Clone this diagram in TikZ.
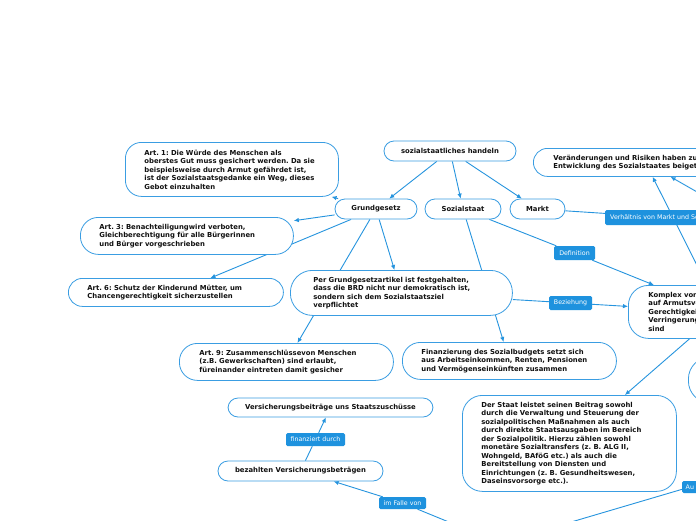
\documentclass[tikz,border=0pt]{standalone}
\usepackage{fontspec}
\setmainfont{DejaVu Sans}
\usetikzlibrary{arrows.meta,backgrounds}
\definecolor{bordc}{RGB}{58,157,226}
\definecolor{linec}{RGB}{38,148,222}
\definecolor{labc}{RGB}{30,146,222}
\definecolor{txtc}{RGB}{17,17,17}
\newcommand\nodefnt{\fontsize{6.85}{8.5}\selectfont\bfseries}
\newcommand\labfnt{\fontsize{6.3}{7.5}\selectfont}
\frenchspacing
\begin{document}
\begin{tikzpicture}[x=1pt,y=-1pt,
  box/.style={draw=bordc, line width=0.8pt, fill=white, text=txtc, font=\nodefnt, inner sep=0pt},
  pill/.style={box, rounded corners=10pt, minimum height=20pt, align=center},
  tbox/.style={box, align=left, anchor=north west, execute at begin node={\frenchspacing\leftskip=#1\relax}},
  lab/.style={fill=labc, text=white, font=\labfnt, inner xsep=0pt, inner ysep=0pt, rounded corners=1.5pt, align=center},
  conn/.style={draw=linec, line width=0.9pt},
  arr/.style={conn, -{Latex[length=5pt,width=4.5pt]}}]
\useasboundingbox (0,0) rectangle (696,520);

% main nodes
\node[pill, minimum width=132pt] (handeln) at (450,151) {sozialstaatliches handeln};
\node[pill, minimum width=82pt] (grund) at (376,209) {Grundgesetz};
\node[pill, minimum width=76pt] (sozial) at (463,209) {Sozialstaat};
\node[pill, minimum width=55pt] (markt) at (537.5,209) {Markt};

\node[tbox=19pt, text width=213pt, minimum height=54pt, rounded corners=16pt] (art1) at (125,142)
  {Art. 1: Die Würde des Menschen als\\oberstes Gut muss gesichert werden. Da sie\\beispielsweise durch Armut gefährdet ist,\\ist der Sozialstaatsgedanke ein Weg, dieses\\Gebot einzuhalten};
\node[tbox=19pt, text width=213pt, minimum height=37pt, rounded corners=18pt] (art3) at (80,217)
  {Art. 3: Benachteiligungwird verboten,\\Gleichberechtigung für alle Bürgerinnen\\und Bürger vorgeschrieben};
\node[tbox=19pt, text width=215pt, minimum height=28pt, rounded corners=14pt] (art6) at (68,278)
  {Art. 6: Schutz der Kinderund Mütter, um\\Chancengerechtigkeit sicherzustellen};
\node[tbox=23pt, text width=222pt, minimum height=45pt, rounded corners=22pt] (per) at (290,270)
  {Per Grundgesetzartikel ist festgehalten,\\dass die BRD nicht nur demokratisch ist,\\sondern sich dem Sozialstaatsziel\\verpflichtet};
\node[tbox=20pt, text width=214pt, minimum height=37pt, rounded corners=18pt] (art9) at (179,343)
  {Art. 9: Zusammenschlüssevon Menschen\\(z.B. Gewerkschaften) sind erlaubt,\\füreinander eintreten damit gesicher};
\node[tbox=19pt, text width=214pt, minimum height=37pt, rounded corners=18pt] (finanz) at (402,342)
  {Finanzierung des Sozialbudgets setzt sich\\aus Arbeitseinkommen, Renten, Pensionen\\und Vermögenseinkünften zusammen};
\node[tbox=20pt, text width=224pt, minimum height=28pt, rounded corners=14pt] (veraend) at (533,148)
  {Veränderungen und Risiken haben zur\\Entwicklung des Sozialstaates beigetragen};
\node[tbox=20pt, text width=184pt, minimum height=53pt, rounded corners=20pt] (komplex) at (628,285)
  {Komplex von\\auf Armutsvermeidung\\Gerechtigkeit\\Verringerung\\sind};
\node[box, minimum width=70pt, minimum height=46pt, rounded corners=22pt, anchor=west] (rnode) at (688,380) {};
\node[tbox=19pt, text width=214pt, minimum height=96pt, rounded corners=20pt] (staat) at (462,395)
  {Der Staat leistet seinen Beitrag sowohl\\durch die Verwaltung und Steuerung der\\sozialpolitischen Maßnahmen als auch\\durch direkte Staatsausgaben im Bereich\\der Sozialpolitik. Hierzu zählen sowohl\\monetäre Sozialtransfers (z. B. ALG II,\\Wohngeld, BAföG etc.) als auch die\\Bereitstellung von Diensten und\\Einrichtungen (z. B. Gesundheitswesen,\\Daseinsvorsorge etc.).};
\node[pill, minimum width=205pt, minimum height=19pt] (versich) at (330.5,407.5) {Versicherungsbeiträge uns Staatszuschüsse};
\node[pill, minimum width=165pt] (bezahlt) at (300.5,471) {bezahlten Versicherungsbeträgen};

% connector labels
\node[lab, minimum width=41pt, minimum height=14pt] (def) at (574.5,253) {Definition};
\node[lab, minimum width=43pt, minimum height=14pt] (bez) at (570.5,303) {Beziehung};
\node[lab, minimum width=59pt, minimum height=13pt] (fin) at (315.5,439.5) {finanziert durch};
\node[lab, minimum width=47pt, minimum height=12pt] (imf) at (402.5,503) {im Falle von};
\node[lab, inner xsep=5pt, minimum height=15pt, anchor=west] (verh) at (605,217.5) {Verhältnis von Markt und Sozialstaat};
\node[lab, inner xsep=3.5pt, minimum height=12pt, anchor=west] (au) at (682,487) {Au};

\coordinate (offB) at (760,228);
\coordinate (bot) at (500,543);

\begin{scope}[on background layer]
  \fill[white] (0,0) rectangle (696,520);
  \draw[arr] (handeln) -- (grund);
  \draw[arr] (handeln) -- (sozial);
  \draw[arr] (handeln) -- (markt);
  \draw[arr] (grund) -- (art1);
  \draw[arr] (grund) -- (art3);
  \draw[arr] (grund) -- (art6);
  \draw[arr] (grund) -- (per);
  \draw[arr] (grund) -- (art9);
  \draw[arr] (sozial) -- (finanz);
  \draw[conn] (sozial) -- (def);
  \draw[arr] (def) -- (komplex);
  \draw[conn] (per) -- (bez);
  \draw[arr] (bez) -- (komplex);
  \draw[conn] (markt) -- (verh);
  \draw[arr] (komplex) -- (veraend);
  \draw[arr] (offB) -- (veraend);
  \draw[arr] (komplex) -- (staat);
  \draw[conn] (bezahlt) -- (fin);
  \draw[arr] (fin) -- (versich);
  \draw[conn] (bot) -- (imf);
  \draw[arr] (imf) -- (bezahlt);
  \draw[conn] (bot) -- (au);
\end{scope}
\end{tikzpicture}
\end{document}
